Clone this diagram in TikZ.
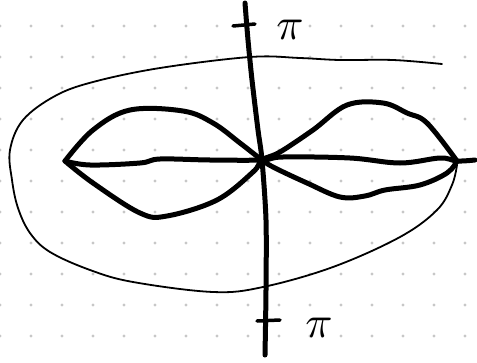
\documentclass[tikz,border=0pt]{standalone}
\usepackage{tikz}

\begin{document}
\begin{tikzpicture}[x=1pt,y=-1pt,
    pen/.style={line width=5pt, line cap=round, line join=round},
    thinpen/.style={line width=1.8pt, line cap=round, line join=round},
    gridDot/.style={fill=black!22},
    piLabel/.style={scale=4.5, inner sep=0pt}]
    \useasboundingbox (0,0) rectangle (477,362);
    % dotted paper
    \foreach \i in {0,...,15}
      \foreach \j in {0,...,10}
        \fill[gridDot] (31*\i, 26+31*\j) circle (1.7);
    \coordinate (L) at (65,161);
    \coordinate (R) at (457,161);
    \coordinate (O) at (262,160);
    % outer region
    \draw[thinpen] plot[smooth, tension=0.6] coordinates {(442,64) (393,60) (340,60) (300,58) (250,57) (160,68) (93,82) (55,96) (23,120) (10,150) (12,180) (18,208) (30,233) (50,252) (90,270) (133,282) (213,292) (263,287) (333,267) (400,237) (437,210) (452,185) (457,165)};
    % vertical axis
    \draw[pen] plot[smooth] coordinates {(245,3) (248,40) (252,80) (258,130) (O) (266,220) (266,290) (265,355)};
    \draw[pen, line width=3.5pt] (233,26) -- (255,24);
    \draw[pen, line width=3.5pt] (257,321) -- (280,320);
    \node[piLabel] (topLabel) at (290,30) {$\pi$};
    \node[piLabel] (botLabel) at (319,328) {$\pi$};
    % horizontal axis
    \draw[pen] plot[smooth, tension=0.6] coordinates {(L) (90,165) (140,163) (160,159) (210,160) (O) (283,157) (350,158) (400,163) (440,158) (R) (475,160)};
    % lobes
    \draw[pen] plot[smooth, tension=0.6] coordinates {(L) (93,130) (130,110) (183,111) (213,123) (240,143) (O) (275,168) (307,183) (340,197) (365,196) (385,190) (420,185) (447,173) (R)};
    \draw[pen] plot[smooth, tension=0.6] coordinates {(L) (93,183) (140,213) (167,216) (217,200) (253,172) (O) (280,152) (313,130) (347,105) (383,103) (407,113) (427,123) (R)};
\end{tikzpicture}
\end{document}
